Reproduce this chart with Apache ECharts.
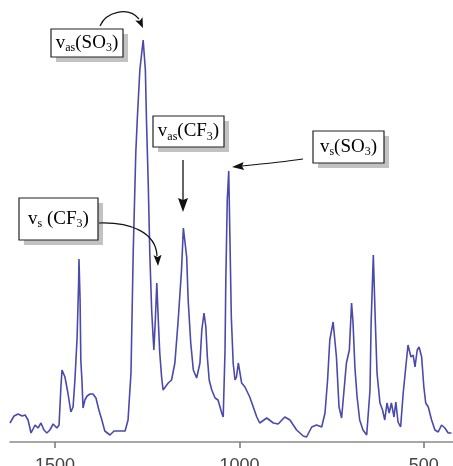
<!DOCTYPE html>
<html>
<head>
<meta charset="utf-8">
<script src="https://cdn.jsdelivr.net/npm/echarts@6/dist/echarts.min.js"></script>
<style>
html,body{margin:0;padding:0;background:#fff;}
#chart{width:453px;height:466px;}
</style>
</head>
<body>
<div id="chart"></div>
<script>
// Wavenumber (cm-1) of each sampled point of the spectrum
const wavenumbers = [1622,1611,1600,1589,1581,1573,1565,1554,1546,1538,1530,1522,1514,1505,1495,1489,1484,1481,1473,1465,1457,1451,1446,1440,1436,1435,1432,1430,1427,1424,1419,1413,1405,1397,1389,1381,1373,1365,1351,1340,1329,1310,1302,1294,1288,1281,1277,1270,1264,1261,1255,1252,1247,1243,1238,1234,1232,1228,1224,1220,1216,1211,1207,1202,1193,1184,1175,1166,1157,1152,1143,1139,1132,1125,1116,1107,1102,1096,1091,1087,1082,1075,1066,1058,1048,1044,1039,1037,1033,1029,1026,1022,1017,1012,1008,1003,999,994,985,972,953,945,926,908,895,877,863,845,827,818,804,791,777,768,761,755,746,737,730,723,714,710,702,696,692,687,681,674,665,655,646,643,637,632,627,619,612,606,600,594,588,581,576,570,563,556,549,543,535,529,524,518,513,506,500,495,488,479,470,461,452,443,434,425];
// Absorbance (arbitrary units)
const absorbance = [0.19,0.26,0.28,0.26,0.27,0.22,0.09,0.17,0.14,0.19,0.12,0.09,0.12,0.18,0.14,0.17,0.55,0.72,0.65,0.49,0.30,0.35,0.62,1.05,1.59,1.83,1.42,0.82,0.62,0.34,0.42,0.46,0.48,0.48,0.44,0.32,0.22,0.11,0.07,0.11,0.11,0.11,0.22,0.69,1.89,2.89,3.22,3.72,3.92,4.02,3.72,3.22,2.55,1.89,1.32,1.05,0.92,1.22,1.59,1.22,0.89,0.65,0.52,0.52,0.59,0.62,0.79,1.22,1.72,2.14,1.85,1.42,0.99,0.72,0.64,0.79,1.12,1.29,1.15,0.85,0.62,0.52,0.44,0.42,0.29,0.25,0.92,1.59,2.42,2.71,2.09,1.25,0.79,0.62,0.65,0.79,0.79,0.59,0.55,0.45,0.25,0.19,0.24,0.19,0.18,0.25,0.22,0.12,0.06,0.05,0.15,0.17,0.15,0.29,0.62,1.02,1.20,0.85,0.35,0.24,0.62,0.79,0.92,1.39,1.19,0.75,0.45,0.22,0.12,0.07,0.52,1.19,1.87,1.25,0.69,0.39,0.32,0.22,0.39,0.29,0.39,0.25,0.40,0.20,0.15,0.49,0.75,0.97,0.85,0.87,0.75,0.92,0.95,0.85,0.55,0.39,0.35,0.22,0.12,0.10,0.17,0.14,0.09,0.09];
// X-axis tick labels
const tickLabels = [1500, 1000, 500];
// Annotation texts (rich-text markup)
const annotationTexts = [
  '{m|v}{s|as}{m|(SO}{s|3}{m|)}',
  '{m|v}{s|as}{m|(CF}{s|3}{m|)}',
  '{m|v}{s|s}{m|(SO}{s|3}{m|)}',
  '{m|v}{s|s}{m| (CF}{s|3}{m|)}'
];

const seriesData = wavenumbers.map((w, i) => [w, absorbance[i]]);

const chart = echarts.init(document.getElementById('chart'), null, {renderer: 'canvas'});

const boxes = [
  {x: 51, y: 29, w: 72, h: 28},
  {x: 153, y: 116, w: 71, h: 31},
  {x: 313, y: 131, w: 71, h: 32},
  {x: 19, y: 198, w: 79, h: 42}
];

const rich = {
  m: {fontFamily: 'Liberation Serif', fontSize: 19, color: '#111', lineHeight: 22},
  s: {fontFamily: 'Liberation Serif', fontSize: 12, color: '#111', lineHeight: 12, verticalAlign: 'bottom'}
};

function head(tx, ty, fx, fy, len, hw) {
  const dx = tx - fx, dy = ty - fy;
  const d = Math.sqrt(dx * dx + dy * dy);
  const ux = dx / d, uy = dy / d;
  const bx = tx - ux * len, by = ty - uy * len;
  return {
    type: 'polygon', silent: true, z: 110,
    shape: {points: [[tx, ty], [bx - uy * hw, by + ux * hw], [bx + ux * 2, by + uy * 2], [bx + uy * hw, by - ux * hw]]},
    style: {fill: '#111'}
  };
}

const graphics = [];
boxes.forEach((b, i) => {
  graphics.push({type: 'rect', silent: true, z: 100, shape: {x: b.x + 5, y: b.y + 5, width: b.w, height: b.h}, style: {fill: '#c2c2c2'}});
  graphics.push({type: 'rect', silent: true, z: 101, shape: {x: b.x, y: b.y, width: b.w, height: b.h}, style: {fill: '#fff', stroke: '#222', lineWidth: 1.2}});
  graphics.push({type: 'text', silent: true, z: 102, x: b.x + b.w / 2, y: b.y + b.h / 2,
    style: {text: annotationTexts[i], rich: rich, align: 'center', verticalAlign: 'middle'}});
});
// arrows
graphics.push({type: 'bezierCurve', silent: true, z: 110, shape: {x1: 100, y1: 26, cpx1: 106, cpy1: 12, cpx2: 128, cpy2: 6, x2: 139, y2: 19}, style: {stroke: '#111', lineWidth: 1.2, fill: null}});
graphics.push(head(143, 28, 138, 17, 10, 4));
graphics.push({type: 'line', silent: true, z: 110, shape: {x1: 183, y1: 160, x2: 183, y2: 202}, style: {stroke: '#111', lineWidth: 1.3}});
graphics.push(head(183, 212, 183, 198, 14, 5));
graphics.push({type: 'bezierCurve', silent: true, z: 110, shape: {x1: 303, y1: 159, cpx1: 282, cpy1: 162, cpx2: 262, cpy2: 164, x2: 242, y2: 166}, style: {stroke: '#111', lineWidth: 1.2, fill: null}});
graphics.push(head(232, 167, 244, 166, 12, 4));
graphics.push({type: 'bezierCurve', silent: true, z: 110, shape: {x1: 99, y1: 223, cpx1: 130, cpy1: 222, cpx2: 156, cpy2: 232, x2: 157, y2: 256}, style: {stroke: '#111', lineWidth: 1.2, fill: null}});
graphics.push(head(158, 266, 157.5, 254, 11, 4));

chart.setOption({
  animation: false,
  backgroundColor: '#fff',
  grid: {left: 10, right: 0, top: 0, bottom: 24, containLabel: false, outerBoundsMode: 'none'},
  xAxis: {
    type: 'value',
    inverse: true,
    min: 421,
    max: 1622,
    axisLine: {show: true, onZero: false, lineStyle: {color: '#8a8a8a', width: 1.5}},
    axisTick: {show: true, customValues: tickLabels, length: 6, lineStyle: {color: '#777', width: 1.5}},
    axisLabel: {show: true, customValues: tickLabels, margin: 15, fontFamily: 'Liberation Sans', fontSize: 18, color: '#444',
      formatter: function (v) { return String(v); }},
    splitLine: {show: false}
  },
  yAxis: {
    type: 'value', min: 0, max: 4.42, show: false
  },
  series: [{
    type: 'line',
    data: seriesData,
    showSymbol: false,
    smooth: false,
    lineStyle: {color: '#4a4aac', width: 1.6},
    silent: true
  }],
  graphic: graphics
});
</script>
</body>
</html>
